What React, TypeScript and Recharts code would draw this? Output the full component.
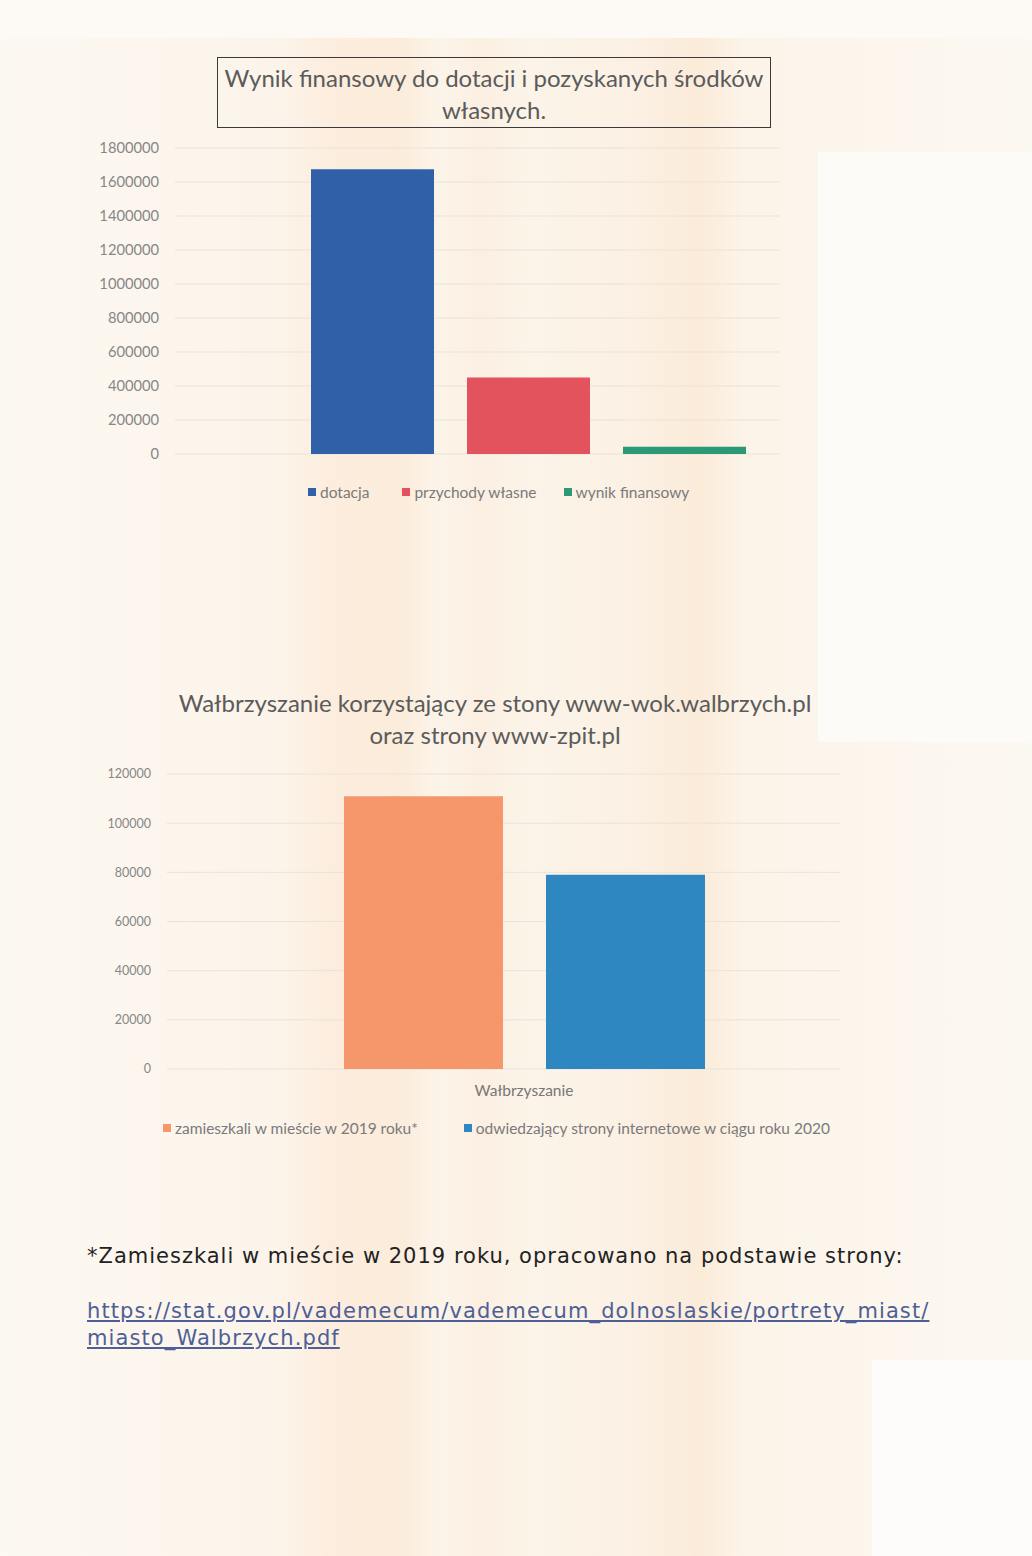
import React from 'react';
import { BarChart, Bar, XAxis, YAxis, CartesianGrid, Legend } from 'recharts';

// ---- Chart 1: Wynik finansowy ----
const financeCategories = [''];
const financeSeries = ['dotacja', 'przychody własne', 'wynik finansowy'];
const financeValues = [1675000, 450000, 43000];
const financeColors = ['#3061a8', '#e2535d', '#2a9a76'];
const financeTicks = [0, 200000, 400000, 600000, 800000, 1000000, 1200000, 1400000, 1600000, 1800000];

// ---- Chart 2: Wałbrzyszanie ----
const visitorCategories = ['Wałbrzyszanie'];
const visitorSeries = ['zamieszkali w mieście w 2019 roku*', 'odwiedzający strony internetowe w ciągu roku 2020'];
const visitorValues = [111000, 79000];
const visitorColors = ['#f5966b', '#2e87c1'];
const visitorTicks = [0, 20000, 40000, 60000, 80000, 100000, 120000];

const financeData = financeCategories.map((name) => {
  const row: Record<string, string | number> = { name };
  financeSeries.forEach((_, i) => (row['k' + i] = financeValues[i]));
  return row;
});
const visitorData = visitorCategories.map((name) => {
  const row: Record<string, string | number> = { name };
  visitorSeries.forEach((_, i) => (row['k' + i] = visitorValues[i]));
  return row;
});

const FONT = 'Lato, "Open Sans", sans-serif';

const makeLegend = (order: string[], padLeft: number, gaps: number[], fontSize: number) => (props: any) => {
  const payload = [...(props.payload || [])].sort(
    (a: any, b: any) => order.indexOf(a.value) - order.indexOf(b.value)
  );
  return (
    <div
      style={{
        display: 'flex',
        alignItems: 'center',
        height: 20,
        paddingLeft: padLeft,
        fontFamily: FONT,
        fontSize,
        color: '#7a7a7a',
        whiteSpace: 'nowrap',
      }}
    >
      {payload.map((p: any, i: number) => (
        <div key={i} style={{ display: 'flex', alignItems: 'center', marginRight: gaps[i] || 0 }}>
          <span style={{ display: 'inline-block', width: 8, height: 8, background: p.color, marginRight: 4 }} />
          <span>{p.value}</span>
        </div>
      ))}
    </div>
  );
};

export default function App() {
  return (
    <div
      style={{
        position: 'absolute',
        left: 0,
        top: 0,
        width: 1032,
        height: 1556,
        overflow: 'hidden',
        background:
          'linear-gradient(90deg, #fcf8f2 0px, #fcf4ea 280px, #fcedde 330px, #fbecdb 400px, #fcf4e9 440px, #fbefe2 480px, #fcf4e9 530px, #fbf0e3 640px, #fbebd9 700px, #fcf4e9 745px, #fcf8f2 1032px)',
      }}
    >
      {/* scan artefacts: lighter panels */}
      <div style={{ position: 'absolute', left: 0, top: 0, width: 1032, height: 38, background: '#fdfaf6' }} />
      <div style={{ position: 'absolute', left: 818, top: 152, width: 214, height: 590, background: '#fdfbf8' }} />
      <div style={{ position: 'absolute', left: 872, top: 1360, width: 160, height: 196, background: '#fefcfa' }} />

      {/* Chart 1 title */}
      <div
        style={{
          position: 'absolute',
          left: 217,
          top: 57,
          width: 554,
          height: 71,
          boxSizing: 'border-box',
          border: '1.5px solid #3a3a3a',
          fontFamily: FONT,
          fontSize: 24,
          lineHeight: '32px',
          color: '#5b5b5b',
          textAlign: 'center',
          paddingTop: 4,
          whiteSpace: 'nowrap',
        }}
      >
        Wynik finansowy do dotacji i pozyskanych środków
        <br />
        własnych.
      </div>

      {/* Chart 1 */}
      <div style={{ position: 'absolute', left: 0, top: 130 }}>
        <BarChart
          width={780}
          height={372}
          data={financeData}
          margin={{ top: 18, right: 0, bottom: 0, left: 0 }}
          barGap={33}
        >
          <CartesianGrid vertical={false} stroke="#e9e3da" />
          <XAxis
            dataKey="name"
            tick={false}
            tickLine={false}
            axisLine={false}
            height={28}
            padding={{ left: 101, right: 0 }}
          />
          <YAxis
            width={175}
            domain={[0, 1800000]}
            ticks={financeTicks}
            interval={0}
            axisLine={false}
            tickLine={false}
            tickSize={0}
            tickMargin={16}
            tick={{ fontFamily: FONT, fontSize: 14.7, fill: '#878787' }}
          />
          <Legend verticalAlign="bottom" content={makeLegend(financeSeries, 308, [33, 27, 0], 15.5)} />
          {financeSeries.map((s, i) => (
            <Bar key={s} dataKey={'k' + i} name={s} fill={financeColors[i]} barSize={123} isAnimationActive={false} />
          ))}
        </BarChart>
      </div>

      {/* Chart 2 title */}
      <div
        style={{
          position: 'absolute',
          left: 0,
          top: 687,
          width: 990,
          fontFamily: FONT,
          fontSize: 24,
          lineHeight: '32px',
          color: '#5b5b5b',
          textAlign: 'center',
          whiteSpace: 'nowrap',
        }}
      >
        Wałbrzyszanie korzystający ze stony www-wok.walbrzych.pl
        <br />
        oraz strony www-zpit.pl
      </div>

      {/* Chart 2 */}
      <div style={{ position: 'absolute', left: 0, top: 756 }}>
        <BarChart
          width={860}
          height={382}
          data={visitorData}
          margin={{ top: 18, right: 20, bottom: 0, left: 0 }}
          barGap={43}
        >
          <CartesianGrid vertical={false} stroke="#e9e3da" />
          <XAxis
            dataKey="name"
            tickLine={false}
            axisLine={false}
            tickSize={0}
            tickMargin={16}
            height={49}
            padding={{ left: 41, right: 0 }}
            tick={{ fontFamily: FONT, fontSize: 15.5, fill: '#777777' }}
          />
          <YAxis
            width={167}
            domain={[0, 120000]}
            ticks={visitorTicks}
            interval={0}
            axisLine={false}
            tickLine={false}
            tickSize={0}
            tickMargin={16}
            tick={{ fontFamily: FONT, fontSize: 12.5, fill: '#878787' }}
          />
          <Legend
            verticalAlign="bottom"
            wrapperStyle={{ width: 860 }}
            content={makeLegend(visitorSeries, 163, [46, 0], 15.5)}
          />
          {visitorSeries.map((s, i) => (
            <Bar key={s} dataKey={'k' + i} name={s} fill={visitorColors[i]} barSize={159} isAnimationActive={false} />
          ))}
        </BarChart>
      </div>

      {/* Footnote */}
      <div
        style={{
          position: 'absolute',
          left: 87,
          top: 1243,
          fontFamily: '"DejaVu Sans", Verdana, sans-serif',
          fontSize: 21,
          letterSpacing: 1,
          lineHeight: '27px',
          color: '#222222',
          whiteSpace: 'nowrap',
        }}
      >
        *Zamieszkali w mieście w 2019 roku, opracowano na podstawie strony:
      </div>
      <div
        style={{
          position: 'absolute',
          left: 87,
          top: 1298,
          fontFamily: '"DejaVu Sans", Verdana, sans-serif',
          fontSize: 21,
          letterSpacing: 1.1,
          lineHeight: '27px',
          color: '#4d5f96',
          textDecoration: 'underline',
          whiteSpace: 'nowrap',
        }}
      >
        https://stat.gov.pl/vademecum/vademecum_dolnoslaskie/portrety_miast/
        <br />
        miasto_Walbrzych.pdf
      </div>
    </div>
  );
}
